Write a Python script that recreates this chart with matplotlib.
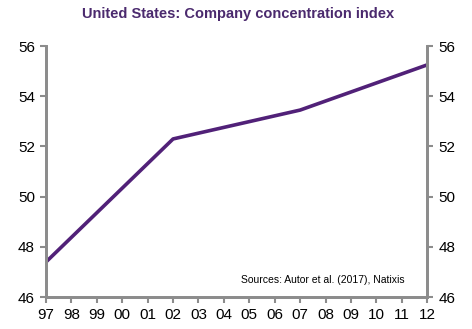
import matplotlib.pyplot as plt

plt.rcParams['font.family'] = ['Liberation Sans', 'DejaVu Sans']

years = [1997, 2002, 2007, 2012]
index = [47.4, 52.3, 53.45, 55.25]
tick_years = list(range(1997, 2013))
tick_labels = [str(y)[2:] for y in tick_years]

purple = '#512178'
grey = '#8c8c8c'

fig = plt.figure(figsize=(4.72, 3.29), dpi=100)
ax = fig.add_axes([0.0975, 0.097, 0.8075, 0.763])
ax.plot(years, index, color=purple, lw=2.6, solid_joinstyle='round')

ax.set_xlim(1997, 2012)
ax.set_ylim(46, 56)
ax.set_xticks(tick_years)
ax.set_xticklabels(tick_labels)
ax.set_yticks(range(46, 57, 2))

ax2 = ax.twinx()
ax2.set_ylim(46, 56)
ax2.set_yticks(range(46, 57, 2))

for a in (ax, ax2):
    a.spines['top'].set_visible(False)
    for s in ('left', 'right', 'bottom'):
        a.spines[s].set_color(grey)
        a.spines[s].set_linewidth(2)
    a.tick_params(colors=grey, width=1.5, length=4, labelsize=11, labelcolor='black')
    a.tick_params(axis='y', pad=4)

ax.text(0.94, 0.07, 'Sources: Autor et al. (2017), Natixis', transform=ax.transAxes,
        ha='right', va='center', fontsize=7.5)

fig.text(0.505, 0.958, 'United States: Company concentration index', ha='center', va='center',
         fontsize=10.5, fontweight='bold', color='#4b2a6e')

fig.savefig('out.png', dpi=100)
